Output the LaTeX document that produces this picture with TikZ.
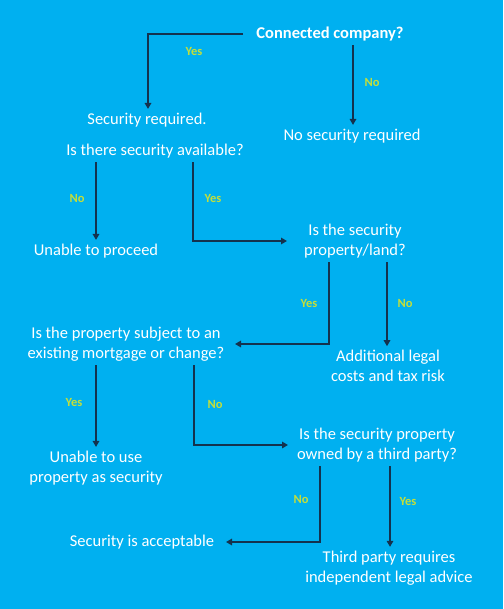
\documentclass[tikz,border=0pt]{standalone}
\usepackage{fontspec}
\setmainfont{Carlito}
\usetikzlibrary{arrows.meta}
\definecolor{bgblue}{RGB}{0,176,240}
\definecolor{arrowc}{RGB}{20,50,78}
\definecolor{lblc}{RGB}{196,222,58}
\tikzset{
  txt/.style={text=white, align=center, inner sep=2pt, outer sep=2pt, font=\fontsize{16.5}{20}\selectfont},
  lbl/.style={text=lblc, inner sep=0pt, font=\fontsize{12.5}{14}\selectfont\bfseries},
  arr/.style={draw=arrowc, line width=1.8pt, -{Triangle[length=6pt,width=6.5pt]}}
}
\begin{document}
\begin{tikzpicture}[x=1pt,y=-1pt]
\fill[bgblue] (0,0) rectangle (503,609);
\useasboundingbox (0,0) rectangle (503,609);

\node[txt] (cc) at (330,34) {\bfseries Connected company?};
\node[txt] (sr) at (147,120) {Security required.};
\node[txt] (sa) at (155,151) {Is there security available?};
\node[txt] (ns) at (352,136) {No security required};
\node[txt] (up) at (96,251) {Unable to proceed};
\node[txt] (pl) at (355,241) {Is the security\\property/land?};
\node[txt] (ac) at (388,366) {Additional legal\\costs and tax risk};
\node[txt] (mo) at (126,344) {Is the property subject to an\\existing mortgage or change?};
\node[txt] (uu) at (96,468) {Unable to use\\property as security};
\node[txt] (tp) at (377,445) {Is the security property\\owned by a third party?};
\node[txt] (ok) at (142,542) {Security is acceptable};
\node[txt] (il) at (389,568) {Third party requires\\independent legal advice};

\draw[arr] (cc.west -| 243,0) -| (148,0 |- sr.north);
\draw[arr] (353,0 |- cc.south) -- (353,0 |- ns.north);
\draw[arr] (96,0 |- sa.south) -- (96,0 |- up.north);
\draw[arr] (193,0 |- sa.south) |- (pl.west -| 287,0);
\draw[arr] (329,0 |- pl.south) |- (mo.east -| 235,0);
\draw[arr] (387,0 |- pl.south) -- (387,0 |- ac.north);
\draw[arr] (96,0 |- mo.south) -- (96,0 |- uu.north);
\draw[arr] (194,0 |- mo.south) |- (tp.west -| 288,0);
\draw[arr] (320,0 |- tp.south) |- (ok.east -| 226,0);
\draw[arr] (390,0 |- tp.south) -- (390,0 |- il.north);

\node[lbl] (l1) at (194,51) {Yes};
\node[lbl] (l2) at (372,82) {No};
\node[lbl] (l3) at (77,198) {No};
\node[lbl] (l4) at (213,198) {Yes};
\node[lbl] (l5) at (309,303) {Yes};
\node[lbl] (l6) at (405,303) {No};
\node[lbl] (l7) at (74,402) {Yes};
\node[lbl] (l8) at (215,404) {No};
\node[lbl] (l9) at (301,499) {No};
\node[lbl] (l10) at (408,501) {Yes};
\end{tikzpicture}
\end{document}
